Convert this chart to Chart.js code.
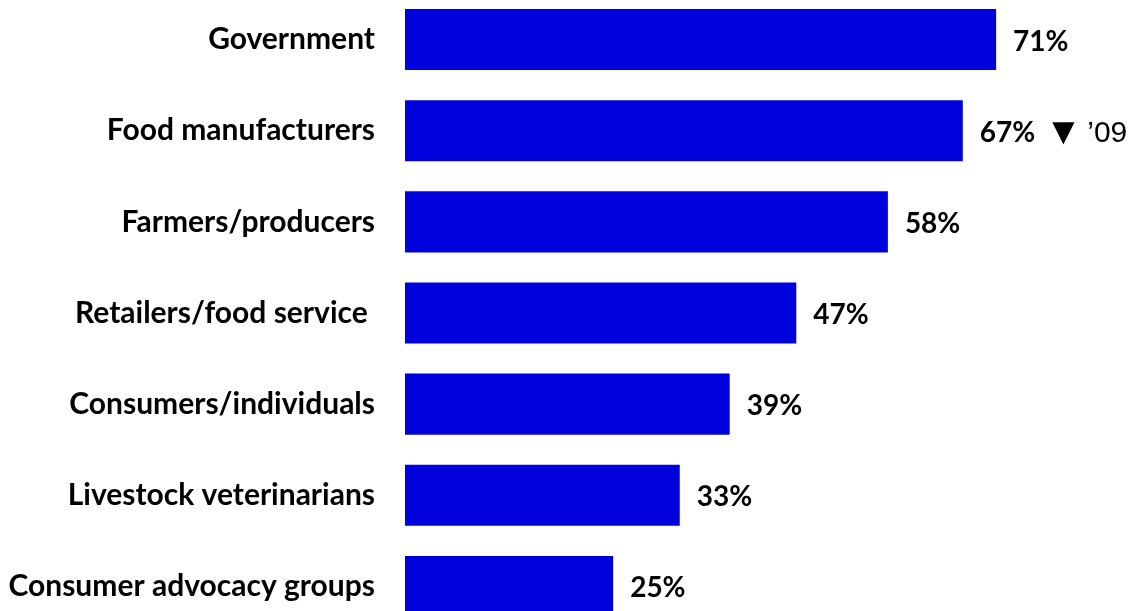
<!DOCTYPE html>
<html>
<head>
<meta charset="utf-8">
<script src="https://cdn.jsdelivr.net/npm/chart.js@4"></script>
<style>
  html, body { margin: 0; padding: 0; background: #fff; overflow: hidden; width: 1134px; height: 611px; }
  #wrap { position: absolute; left: 0; top: -6px; width: 1134px; height: 638px; }
</style>
</head>
<body>
<div id="wrap"><canvas id="c"></canvas></div>
<script>
// Who is responsible for food safety (share of respondents)
const categories = [
  'Government',
  'Food manufacturers',
  'Farmers/producers',
  'Retailers/food service ',
  'Consumers/individuals',
  'Livestock veterinarians',
  'Consumer advocacy groups'
];
const shares = [71, 67, 58, 47, 39, 33, 25];
// change markers shown next to a value (index -> note)
const notes = [null, '\u201909', null, null, null, null, null];

const LABEL_FONT = 'Lato, "Open Sans", sans-serif';

const valueLabels = {
  id: 'valueLabels',
  afterDatasetsDraw(chart) {
    const ctx = chart.ctx;
    const meta = chart.getDatasetMeta(0);
    ctx.save();
    ctx.textBaseline = 'middle';
    meta.data.forEach((bar, i) => {
      const txt = shares[i] + '%';
      ctx.font = 'bold 28px ' + LABEL_FONT;
      ctx.fillStyle = '#000';
      ctx.textAlign = 'left';
      const x = bar.x + 17;
      const y = bar.y + 2;
      ctx.fillText(txt, x, y);
      if (notes[i]) {
        const w = ctx.measureText(txt).width;
        ctx.font = '29px "DejaVu Sans", sans-serif';
        ctx.fillText('\u25BC', x + w + 17, y + 1);
        ctx.font = '30px "Liberation Sans", Arial, sans-serif';
        ctx.fillText(notes[i], x + w + 52, y + 1);
      }
    });
    ctx.restore();
  }
};

new Chart(document.getElementById('c'), {
  type: 'bar',
  data: {
    labels: categories,
    datasets: [{
      data: shares,
      backgroundColor: '#0000DC',
      borderWidth: 0,
      barPercentage: 0.67,
      categoryPercentage: 1.0
    }]
  },
  options: {
    indexAxis: 'y',
    responsive: true,
    maintainAspectRatio: false,
    animation: false,
    layout: { padding: { left: 0, right: 13, top: 0, bottom: 0 } },
    plugins: { legend: { display: false }, tooltip: { enabled: false } },
    scales: {
      x: { display: false, min: 0, max: 86 },
      y: {
        grid: { display: false, drawTicks: false },
        border: { display: false },
        ticks: {
          color: '#000',
          padding: 30,
          font: { family: LABEL_FONT, size: 30, weight: 'bold' }
        },
        afterFit(scale) {
          scale.width = 405;
          scale.paddingTop = 0;
          scale.paddingBottom = 0;
        }
      }
    }
  },
  plugins: [valueLabels]
});
</script>
</body>
</html>
